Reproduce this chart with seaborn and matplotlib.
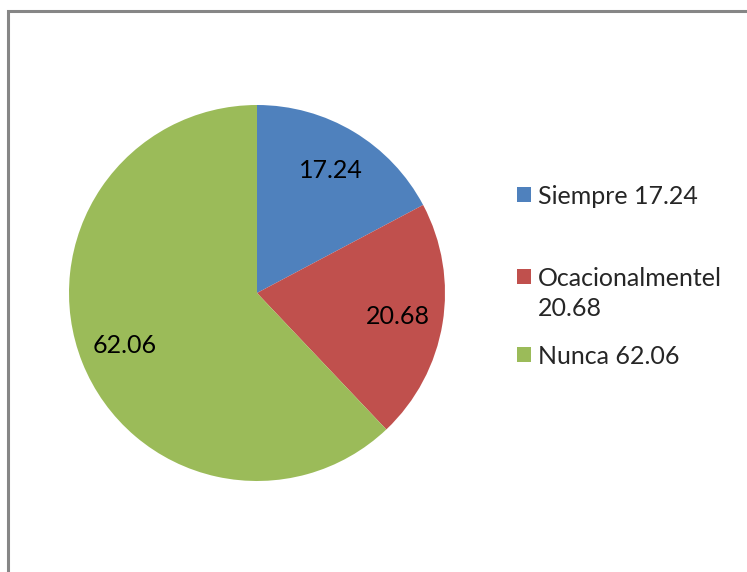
import matplotlib
matplotlib.use("Agg")
import matplotlib.pyplot as plt
import seaborn as sns
from matplotlib.patches import Patch, Rectangle

# datos del grafico
categorias = ["Siempre 17.24", "Ocacionalmentel", "Nunca 62.06"]
categorias_extra = ["", "20.68", ""]
valores = [17.24, 20.68, 62.06]
etiquetas = ["17.24", "20.68", "62.06"]
colores = ["#4F81BD", "#C0504D", "#9BBB59"]

sns.set_theme(style="white")
plt.rcParams["font.family"] = ["Lato", "DejaVu Sans"]

W, H = 747, 572
fig = plt.figure(figsize=(W / 100, H / 100), dpi=100)
fig.patch.set_facecolor("white")

# marco gris
fig.add_artist(Rectangle((8 / W, -0.05), 1.2, 1 - 11 / H + 0.05,
                         transform=fig.transFigure, fill=False,
                         edgecolor="#868686", linewidth=2.2))

# pastel
cx, cy, r = 257, 293, 188
ax = fig.add_axes([(cx - r) / W, (H - cy - r) / H, 2 * r / W, 2 * r / H])
cunas, textos = ax.pie(valores, colors=colores, startangle=90, counterclock=False,
                       radius=1, labels=etiquetas, labeldistance=0.76,
                       wedgeprops=dict(linewidth=0),
                       textprops=dict(fontsize=18, color="black", ha="center", va="center"))
ax.set_xlim(-1, 1)
ax.set_ylim(-1, 1)
ax.set_aspect("equal")
ax.axis("off")

# leyenda (una entrada por fila, como en Excel)
filas_y = [196, 278, 356]
for cat, extra, col, y in zip(categorias, categorias_extra, colores, filas_y):
    leg = fig.legend([Patch(facecolor=col, edgecolor="none")], [cat],
                     loc="center left", bbox_to_anchor=(517 / W, 1 - y / H),
                     frameon=False, fontsize=18, handlelength=0.55,
                     handleheight=0.55, handletextpad=0.3, borderpad=0,
                     borderaxespad=0)
    if extra:
        fig.text(538 / W, 1 - (y + 31) / H, extra, fontsize=18,
                 ha="left", va="center")

fig.savefig("out.png", dpi=100)
